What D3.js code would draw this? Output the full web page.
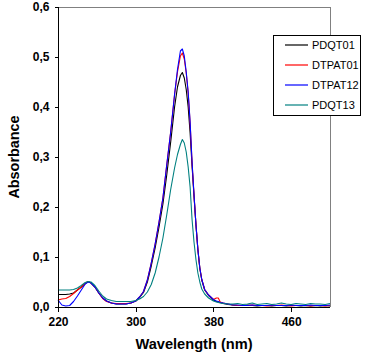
<!DOCTYPE html>
<html>
<head>
<meta charset="utf-8">
<script src="https://cdn.jsdelivr.net/npm/d3@7"></script>
<style>
  html, body { margin: 0; padding: 0; background: #fff; }
  svg { display: block; }
  text { font-family: Arial, "Liberation Sans", sans-serif; }
</style>
</head>
<body>
<svg id="chart" width="367" height="355"></svg>
<script>
// ---- data ----
const wavelengths = [220,224,228,232,236,240,244,248,251,254,258,262,266,270,275,280,285,290,295,300,
  304,308,312,316,320,324,328,332,336,340,343,346,348,350,352,354,356,358,360,362,364,366,368,371,375,
  380,383,385,387,390,395,400,405,410,415,420,425,430,435,440,445,450,455,460,465,470,475,480,485,490,495,500];

const PDQT01 = [0.025,0.025,0.025,0.026,0.028,0.034,0.040,0.047,0.051,0.048,0.040,0.028,0.018,0.012,0.008,0.006,0.006,0.006,0.008,0.012,
  0.019,0.029,0.050,0.082,0.118,0.160,0.206,0.265,0.330,0.400,0.440,0.463,0.469,0.458,0.435,0.400,0.348,0.282,0.222,0.165,0.115,0.077,0.054,0.034,0.023,
  0.014,0.011,0.010,0.009,0.007,0.005,0.004,0.003,0.003,0.004,0.003,0.002,0.003,0.003,0.002,0.003,0.003,0.002,0.003,0.003,0.002,0.003,0.002,0.003,0.002,0.003,0.002];

const DTPAT01 = [0.014,0.016,0.017,0.021,0.027,0.034,0.040,0.047,0.051,0.048,0.040,0.028,0.017,0.011,0.008,0.007,0.007,0.007,0.008,0.012,
  0.020,0.031,0.054,0.088,0.126,0.170,0.218,0.285,0.350,0.425,0.470,0.502,0.508,0.496,0.468,0.428,0.368,0.288,0.224,0.165,0.115,0.078,0.055,0.035,0.024,
  0.015,0.018,0.018,0.010,0.008,0.006,0.004,0.003,0.003,0.003,0.004,0.003,0.003,0.002,0.003,0.003,0.004,0.003,0.002,0.003,0.003,0.003,0.002,0.003,0.003,0.002,0.003];

const DTPAT12 = [0.014,0.004,0.002,0.003,0.011,0.022,0.034,0.046,0.050,0.048,0.040,0.028,0.018,0.012,0.008,0.006,0.006,0.006,0.008,0.012,
  0.020,0.031,0.054,0.088,0.126,0.170,0.218,0.285,0.350,0.425,0.475,0.512,0.516,0.502,0.470,0.430,0.370,0.290,0.225,0.165,0.115,0.078,0.055,0.035,0.024,
  0.015,0.012,0.011,0.009,0.008,0.006,0.004,0.004,0.003,0.003,0.004,0.003,0.003,0.003,0.004,0.003,0.003,0.003,0.004,0.003,0.003,0.003,0.004,0.003,0.003,0.003,0.004];

const PDQT13 = [0.034,0.034,0.034,0.034,0.035,0.038,0.043,0.049,0.051,0.050,0.043,0.032,0.022,0.016,0.013,0.011,0.011,0.011,0.011,0.013,
  0.016,0.021,0.030,0.045,0.068,0.100,0.138,0.185,0.235,0.278,0.305,0.325,0.335,0.328,0.310,0.280,0.240,0.175,0.130,0.095,0.068,0.050,0.036,0.026,0.018,
  0.012,0.010,0.009,0.008,0.007,0.006,0.006,0.007,0.005,0.006,0.008,0.005,0.006,0.007,0.005,0.006,0.008,0.006,0.005,0.007,0.006,0.005,0.007,0.006,0.006,0.005,0.007];

const seriesNames = ["PDQT01", "DTPAT01", "DTPAT12", "PDQT13"];
const seriesValues = [PDQT01, DTPAT01, DTPAT12, PDQT13];
const seriesColors = ["#000000", "#ff0000", "#0000ff", "#008080"];

const xTicks = [220, 300, 380, 460];
const yTicks = [0, 0.1, 0.2, 0.3, 0.4, 0.5, 0.6];
const xTitle = "Wavelength (nm)";
const yTitle = "Absorbance";

// ---- layout ----
const plot = { left: 58, right: 330, top: 7, bottom: 307 };
const svg = d3.select("#chart");

const x = d3.scaleLinear().domain([220, 500]).range([plot.left, plot.right]);
const y = d3.scaleLinear().domain([0, 0.6]).range([plot.bottom, plot.top]);

// frame: top and right in grey
svg.append("path")
  .attr("d", `M${plot.left},${plot.top + 0.5}H${plot.right + 0.5}V${plot.bottom}`)
  .attr("fill", "none").attr("stroke", "#808080").attr("stroke-width", 1)
  .attr("shape-rendering", "crispEdges");

// series
const line = d3.line().x((d, i) => x(wavelengths[i])).y(d => y(d));
const g = svg.append("g");
seriesValues.forEach((vals, k) => {
  g.append("path")
    .datum(vals)
    .attr("d", line)
    .attr("fill", "none")
    .attr("stroke", seriesColors[k])
    .attr("stroke-width", 1.1)
    .attr("stroke-linejoin", "round");
});

// axes
const fmt = d => d3.format(".1f")(d).replace(".", ",");
const yAxis = svg.append("g")
  .attr("transform", `translate(${plot.left + 0.5},0)`)
  .call(d3.axisLeft(y).tickValues(yTicks).tickSize(4).tickPadding(5).tickFormat(fmt));
const xAxis = svg.append("g")
  .attr("transform", `translate(0,${plot.bottom + 0.5})`)
  .call(d3.axisBottom(x).tickValues(xTicks).tickSize(4).tickPadding(6).tickFormat(d3.format("d")));

[yAxis, xAxis].forEach(a => {
  a.select(".domain").attr("stroke", "#000").attr("shape-rendering", "crispEdges");
  a.selectAll(".tick line").attr("stroke", "#000").attr("shape-rendering", "crispEdges");
  a.selectAll("text").attr("fill", "#000").attr("font-size", "12px").attr("font-weight", "bold")
    .attr("font-family", "Arial, 'Liberation Sans', sans-serif");
});
yAxis.select(".domain").attr("d", `M0,${plot.top}V${plot.bottom}`);
xAxis.select(".domain").attr("d", `M${plot.left},0H${plot.right}`);

// titles
svg.append("text")
  .attr("x", (plot.left + plot.right) / 2 + 0)
  .attr("y", 349)
  .attr("text-anchor", "middle")
  .attr("font-size", "14.6px").attr("font-weight", "bold")
  .text(xTitle);
svg.append("text")
  .attr("transform", `translate(19,${(plot.top + plot.bottom) / 2}) rotate(-90)`)
  .attr("text-anchor", "middle")
  .attr("font-size", "14.4px").attr("font-weight", "bold")
  .text(yTitle);

// legend
const lg = svg.append("g");
lg.append("rect")
  .attr("x", 273.5).attr("y", 35.5).attr("width", 87).attr("height", 79.5)
  .attr("fill", "#fff").attr("stroke", "#000").attr("stroke-width", 1)
  .attr("shape-rendering", "crispEdges");
seriesNames.forEach((name, k) => {
  const yy = 44.5 + k * 20;
  lg.append("line")
    .attr("x1", 285).attr("x2", 308).attr("y1", yy + 0.5).attr("y2", yy + 0.5)
    .attr("stroke", seriesColors[k]).attr("stroke-width", 1.2);
  lg.append("text")
    .attr("x", 312).attr("y", yy + 4.5)
    .attr("font-size", "11px")
    .attr("textLength", null)
    .text(name);
});
</script>
</body>
</html>
